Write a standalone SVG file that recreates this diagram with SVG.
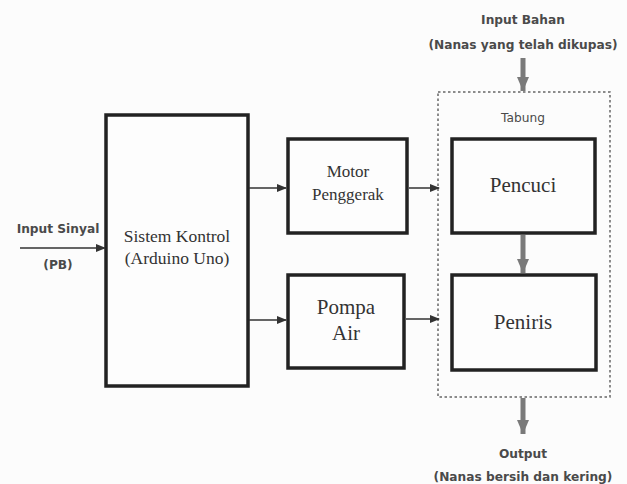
<svg xmlns="http://www.w3.org/2000/svg" width="627" height="484" viewBox="0 0 627 484">
<style>
.box{fill:#fdfdfd;stroke:#222;stroke-width:3.5}
.ser{font-family:"Liberation Serif","Times New Roman",serif;fill:#333;text-anchor:middle}
.sans{font-family:"DejaVu Sans",Verdana,sans-serif;fill:#4a4a4a;text-anchor:middle;font-size:12.2px;font-weight:bold}
.thin{stroke:#333;stroke-width:1.5;fill:none}
.gray{stroke:#7a7a7a;stroke-width:5;fill:none}
</style>
<defs>
<marker id="ah" markerWidth="10" markerHeight="8" refX="9" refY="4" orient="auto" markerUnits="userSpaceOnUse">
<path d="M0,0 L10,4 L0,8 Z" fill="#333"/>
</marker>
<marker id="gh" markerWidth="16" markerHeight="12" refX="14" refY="6" orient="auto" markerUnits="userSpaceOnUse">
<path d="M0,0 L14,6 L0,12 Z" fill="#7a7a7a"/>
</marker>
</defs>
<rect width="627" height="484" fill="#fcfcfc"/>
<g id="sistem">
<rect class="box" x="106" y="115" width="142" height="271"/>
<text class="ser" x="177" y="242" font-size="17.5">Sistem Kontrol</text>
<text class="ser" x="177" y="264" font-size="17.5">(Arduino Uno)</text>
</g>
<g id="motor">
<rect class="box" x="288" y="139" width="119" height="94"/>
<text class="ser" x="348" y="177" font-size="17">Motor</text>
<text class="ser" x="348" y="200" font-size="17">Penggerak</text>
</g>
<g id="pompa">
<rect class="box" x="288" y="275" width="116" height="93"/>
<text class="ser" x="346" y="314" font-size="21">Pompa</text>
<text class="ser" x="346" y="340" font-size="21">Air</text>
</g>
<g id="tabung">
<rect x="438" y="92" width="172" height="305" fill="none" stroke="#666" stroke-width="1.5" stroke-dasharray="2.5,2.5"/>
<text class="sans" x="523" y="122" style="font-weight:normal">Tabung</text>
</g>
<g id="pencuci">
<rect class="box" x="452" y="139" width="143" height="94"/>
<text class="ser" x="523" y="192" font-size="21">Pencuci</text>
</g>
<g id="peniris">
<rect class="box" x="452" y="275" width="144" height="95"/>
<text class="ser" x="523" y="329" font-size="21">Peniris</text>
</g>
<g id="labels">
<text class="sans" x="58" y="233">Input Sinyal</text>
<text class="sans" x="58" y="269">(PB)</text>
<text class="sans" x="523" y="24">Input Bahan</text>
<text class="sans" x="523" y="49">(Nanas yang telah dikupas)</text>
<text class="sans" x="523" y="458">Output</text>
<text class="sans" x="523" y="481">(Nanas bersih dan kering)</text>
</g>
<g id="connectors">
<line class="thin" x1="20" y1="248" x2="105" y2="248" marker-end="url(#ah)"/>
<line class="thin" x1="249" y1="188" x2="286" y2="188" marker-end="url(#ah)"/>
<line class="thin" x1="249" y1="320" x2="286" y2="320" marker-end="url(#ah)"/>
<line class="thin" x1="409" y1="188" x2="439" y2="188" marker-end="url(#ah)"/>
<line class="thin" x1="406" y1="319" x2="439" y2="319" marker-end="url(#ah)"/>
<line class="gray" x1="523" y1="58" x2="523" y2="91" marker-end="url(#gh)"/>
<line class="gray" x1="523" y1="235" x2="523" y2="273" marker-end="url(#gh)"/>
<line class="gray" x1="523" y1="398" x2="523" y2="434" marker-end="url(#gh)"/>
</g>
</svg>
